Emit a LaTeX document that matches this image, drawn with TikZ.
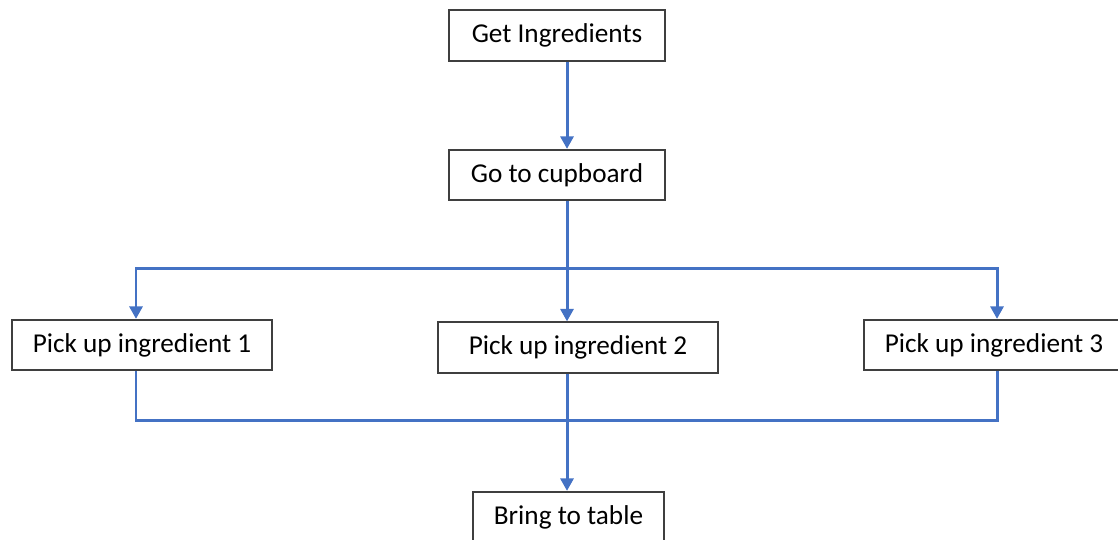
\documentclass[tikz,border=0pt]{standalone}
\usepackage{fontspec}
\setmainfont{Carlito}
\usetikzlibrary{arrows.meta,calc}
\definecolor{flowColor}{HTML}{4472C4}
\definecolor{boxColor}{HTML}{3F3F3F}
\tikzset{
	box/.style={draw=boxColor, line width=1pt, rectangle, inner sep=0pt,
		minimum height=1.01cm, font=\fontsize{15.5}{18}\selectfont},
	flow/.style={draw=flowColor, line width=1.7pt,
		-{Triangle[length=2.5mm,width=2.6mm]}},
	bus/.style={draw=flowColor, line width=1.7pt}
}

\begin{document}
\begin{tikzpicture}[x=0.02cm, y=-0.02cm]
	\path[use as bounding box, clip] (0,0) rectangle (1118,539);
	\node[box, minimum width=4.32cm] (get) at (557, 35.5) {Get Ingredients};
	\node[box, minimum width=4.32cm] (cup) at (557, 175) {Go to cupboard};
	\node[box, minimum width=5.2cm] (pick1) at (142, 345) {Pick up ingredient 1};
	\node[box, minimum width=5.6cm] (pick2) at (578, 347.5) {Pick up ingredient 2};
	\node[box, minimum width=5.2cm] (pick3) at (994, 345) {Pick up ingredient 3};
	\node[box, minimum width=3.82cm] (table) at (568.5, 517) {Bring to table};
	% where the lines run
	\coordinate (spine) at (567, 0);
	\coordinate (lx) at (136, 0);
	\coordinate (rx) at (997, 0);
	\coordinate (split) at (567, 268);
	\coordinate (join) at (567, 420);
	\path[flow] (get.south -| spine) -- (cup.north -| spine);
	\path[flow] (cup.south -| spine) -- (pick2.north -| spine);
	\path[flow] (split) -| (pick1.north -| lx);
	\path[flow] (split) -| (pick3.north -| rx);
	\path[bus] (pick1.south -| lx) |- (join) -| (pick3.south -| rx);
	\path[flow] (pick2.south -| spine) -- (table.north -| spine);
\end{tikzpicture}
\end{document}
